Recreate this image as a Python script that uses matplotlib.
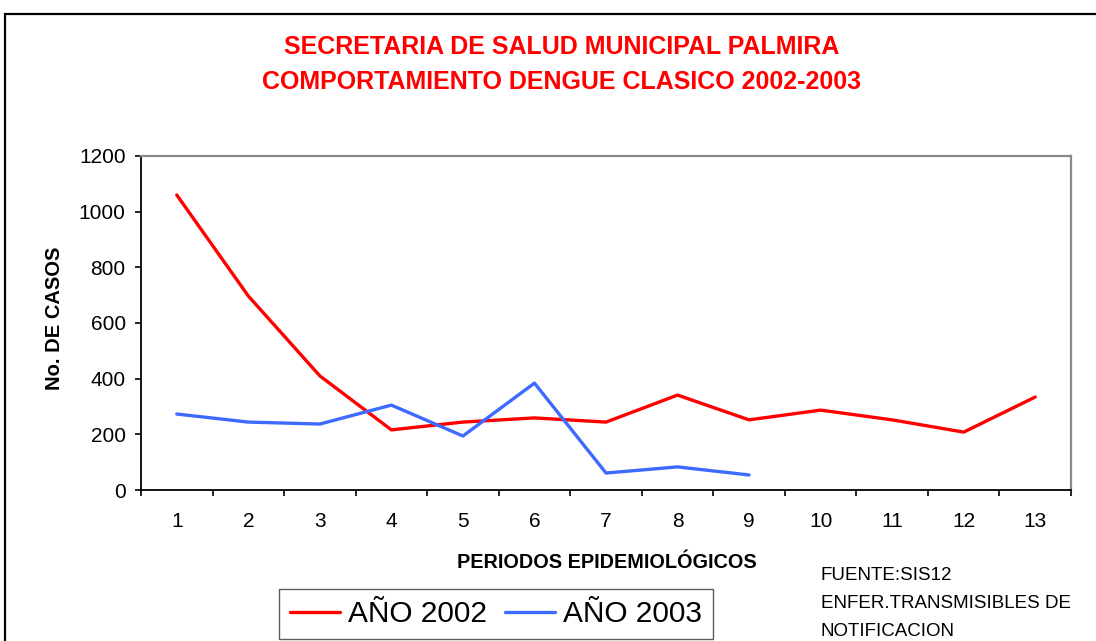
import matplotlib.pyplot as plt
from matplotlib.patches import Rectangle

plt.rcParams['font.family'] = ['Liberation Sans', 'DejaVu Sans']

# datos
periodos = [1, 2, 3, 4, 5, 6, 7, 8, 9, 10, 11, 12, 13]
casos_2002 = [1060, 697, 410, 216, 244, 259, 244, 341, 252, 287, 252, 208, 334]
periodos_2003 = [1, 2, 3, 4, 5, 6, 7, 8, 9]
casos_2003 = [273, 244, 237, 305, 194, 384, 61, 83, 54]
y_ticks = [0, 200, 400, 600, 800, 1000, 1200]

ROJO = '#FF0000'
AZUL = '#3D6BFF'

fig = plt.figure(figsize=(10.96, 6.41), dpi=100)
W, H = 1096, 641

# marco exterior (se sale de la imagen por la derecha y abajo)
fig.add_artist(Rectangle((5 / W, -0.2), 1.2, 1.2 - 14 / H, transform=fig.transFigure,
                         fill=False, edgecolor='black', linewidth=1.6))

ax = fig.add_axes([141 / W, 1 - 490 / H, (1071 - 141) / W, (490 - 156) / H])

ax.plot(periodos, casos_2002, color=ROJO, linewidth=2.4, label='AÑO 2002', solid_capstyle='round')
ax.plot(periodos_2003, casos_2003, color=AZUL, linewidth=2.4, label='AÑO 2003', solid_capstyle='round')

ax.set_xlim(0.5, 13.5)
ax.set_ylim(0, 1200)
ax.set_yticks(y_ticks)
ax.set_xticks(periodos)
ax.set_xticklabels([str(p) for p in periodos])
ax.set_xticks([p + 0.5 for p in [0] + periodos], minor=True)

ax.tick_params(axis='x', which='major', length=0, pad=16, labelsize=15)
ax.tick_params(axis='x', which='minor', direction='out', length=4, width=1.2, color='black')
ax.tick_params(axis='y', direction='out', length=4, width=1.2, pad=7, labelsize=15)

for lado in ['left', 'bottom']:
    ax.spines[lado].set_color('black')
    ax.spines[lado].set_linewidth(1.3)
for lado in ['top', 'right']:
    ax.spines[lado].set_color('#888888')
    ax.spines[lado].set_linewidth(1.6)

ax.set_ylabel('No. DE CASOS', fontsize=14.5, fontweight='bold')
ax.set_xlabel('PERIODOS EPIDEMIOLÓGICOS', fontsize=14.3, fontweight='bold')
ax.xaxis.set_label_coords((607 - 141) / 930, (490 - 562) / 334)
ax.yaxis.set_label_coords((54 - 141) / 930, (490 - 318) / 334)
ax.xaxis.label.set_va('center')
ax.yaxis.label.set_va('center')

# titulos
fig.text(562 / W, 1 - 47 / H, 'SECRETARIA DE SALUD MUNICIPAL PALMIRA', color=ROJO,
         fontsize=18, fontweight='bold', ha='center', va='center')
fig.text(562 / W, 1 - 82 / H, 'COMPORTAMIENTO DENGUE CLASICO 2002-2003', color=ROJO,
         fontsize=18, fontweight='bold', ha='center', va='center')

# fuente
fig.text(821 / W, 1 - 575 / H, 'FUENTE:SIS12', fontsize=13.5, ha='left', va='center')
fig.text(821 / W, 1 - 604 / H, 'ENFER.TRANSMISIBLES DE', fontsize=13.5, ha='left', va='center')
fig.text(821 / W, 1 - 632 / H, 'NOTIFICACION', fontsize=13.5, ha='left', va='center')

leg = fig.legend(loc='upper left', bbox_to_anchor=(279 / W, 1 - 589 / H), ncol=2,
                 fontsize=21.5, frameon=True, fancybox=False, edgecolor='#333333',
                 handlelength=1.67, handletextpad=0.27, columnspacing=0.6,
                 borderpad=0.37, borderaxespad=0)
leg.get_frame().set_linewidth(1.0)

fig.savefig('out.png', dpi=100)
